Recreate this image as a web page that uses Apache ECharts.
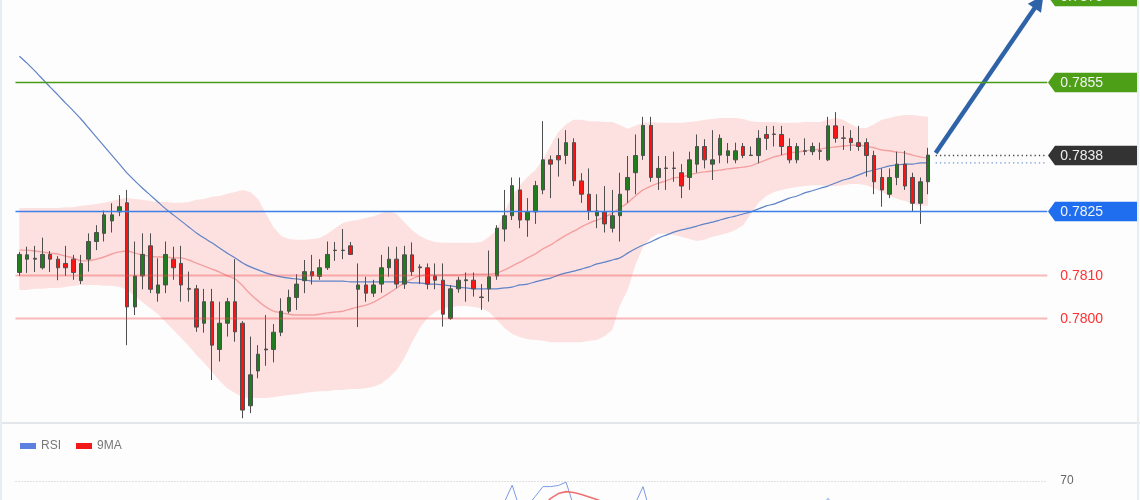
<!DOCTYPE html>
<html><head><meta charset="utf-8">
<script src="https://cdn.jsdelivr.net/npm/echarts@6/dist/echarts.min.js"></script>
<style>html,body{margin:0;padding:0;background:#fdfdfd}#c{width:1140px;height:500px}</style>
</head><body><div id="c"></div><script>
const open = [
0.78107,0.78138,0.78138,0.78118,0.78149,0.78138,0.78128,0.78138,0.78088,0.78138,
0.78179,0.78198,0.78227,0.78248,0.78269,0.78027,0.78099,0.78169,0.78059,0.78078,
0.78138,0.78128,0.7807,0.78069,0.77989,0.78039,0.77928,0.77989,0.78039,0.77989,
0.77797,0.77878,0.77927,0.77928,0.77968,0.78017,0.78049,0.78088,0.78109,0.78098,
0.78118,0.78158,0.78158,0.78169,0.78068,0.78078,0.78059,0.7808,0.78118,0.78138,
0.7808,0.78148,0.7812,0.78118,0.78099,0.78089,0.78,0.78069,0.78088,0.78089,
0.7805,0.78069,0.78099,0.78208,0.78239,0.78299,0.78229,0.78248,0.78299,0.78369,
0.78379,0.78379,0.78409,0.7832,0.78289,0.78239,0.78248,0.7821,0.78239,0.78299,
0.78339,0.78379,0.78449,0.78328,0.78349,0.78349,0.78339,0.78328,0.78359,0.784,
0.78359,0.7838,0.78379,0.78369,0.784,0.7838,0.78379,0.78428,0.78429,0.78428,
0.784,0.78369,0.78389,0.78388,0.78389,0.78369,0.78448,0.7842,0.78419,0.78409,
0.78409,0.78379,0.78328,0.78289,0.78328,0.78359,0.78328,0.78268,0.78318];
const close = [
0.78149,0.78148,0.7814,0.78149,0.78138,0.78118,0.78118,0.78107,0.78128,0.78179,
0.782,0.78241,0.78241,0.7826,0.78027,0.78099,0.78149,0.78068,0.78078,0.78149,
0.78118,0.78078,0.78068,0.7798,0.78039,0.77938,0.77989,0.78039,0.77969,0.77787,
0.77869,0.77917,0.77929,0.77968,0.78017,0.78049,0.7808,0.78109,0.78099,0.78118,
0.78149,0.78159,0.78159,0.78149,0.78078,0.78059,0.78078,0.78118,0.78138,0.7808,
0.78148,0.78109,0.78118,0.7808,0.78089,0.7801,0.78069,0.78089,0.7809,0.78069,
0.78049,0.78097,0.7821,0.78239,0.78309,0.78229,0.78248,0.78309,0.78369,0.78359,
0.78369,0.78409,0.7832,0.78289,0.7825,0.7825,0.7822,0.78239,0.78289,0.78328,
0.78379,0.78449,0.78328,0.78349,0.7835,0.7835,0.78308,0.78369,0.784,0.78369,
0.78369,0.78419,0.7839,0.7839,0.78379,0.78379,0.78419,0.78419,0.78428,0.784,
0.78369,0.784,0.7839,0.784,0.7839,0.78448,0.78419,0.78419,0.78409,0.784,
0.78379,0.78318,0.78299,0.78328,0.78359,0.78308,0.78268,0.78318,0.7838];
const low = [
0.78099,0.78106,0.78108,0.78114,0.78108,0.78089,0.78099,0.7809,0.7808,0.78109,
0.78159,0.78179,0.782,0.78238,0.77938,0.78008,0.78068,0.78059,0.78039,0.78059,
0.7809,0.78039,0.78039,0.77969,0.77967,0.77857,0.779,0.77958,0.77946,0.77768,
0.7778,0.77861,0.7789,0.77898,0.77959,0.78012,0.7802,0.78059,0.78079,0.7809,
0.78113,0.78134,0.78138,0.78148,0.7798,0.78039,0.7805,0.7806,0.78097,0.7807,
0.78069,0.78099,0.7808,0.78068,0.78068,0.77981,0.77997,0.7806,0.78039,0.78051,
0.7802,0.78039,0.7809,0.78179,0.78229,0.7821,0.7819,0.7822,0.78289,0.7828,
0.7833,0.78359,0.78308,0.78269,0.78229,0.7821,0.782,0.782,0.78179,0.78269,
0.78289,0.78369,0.78318,0.78299,0.78299,0.78318,0.7828,0.78299,0.78339,0.78349,
0.78322,0.78361,0.78361,0.78361,0.78373,0.78379,0.78361,0.78392,0.784,0.7838,
0.78361,0.78361,0.7838,0.7838,0.78369,0.78366,0.78409,0.78392,0.7839,0.7839,
0.7833,0.78289,0.7826,0.7828,0.7831,0.78299,0.78248,0.7822,0.78289];
const high = [
0.78155,0.78167,0.78169,0.78188,0.78157,0.78145,0.78169,0.78148,0.78148,0.78198,
0.78217,0.78251,0.78268,0.78287,0.78299,0.78179,0.78198,0.78198,0.7814,0.78179,
0.78167,0.78169,0.78109,0.78078,0.78069,0.78069,0.78039,0.78048,0.78138,0.77994,
0.77958,0.77938,0.78008,0.77987,0.78047,0.78067,0.78103,0.78136,0.78148,0.78138,
0.78179,0.78178,0.78208,0.78178,0.78128,0.78097,0.7809,0.78148,0.78167,0.78167,
0.78169,0.78177,0.78126,0.78128,0.78128,0.78128,0.78078,0.78097,0.78107,0.78107,
0.7808,0.78158,0.78217,0.78299,0.78328,0.78328,0.7828,0.7832,0.78459,0.78379,
0.78419,0.78438,0.78419,0.78338,0.78349,0.78289,0.78308,0.78299,0.78339,0.78378,
0.78428,0.78469,0.78469,0.78378,0.78378,0.78388,0.78359,0.78388,0.78428,0.78417,
0.78438,0.78428,0.78408,0.78409,0.78408,0.784,0.78438,0.78448,0.78448,0.78448,
0.78419,0.78408,0.78419,0.78409,0.78409,0.78469,0.7848,0.78448,0.78438,0.78448,
0.78419,0.7839,0.78349,0.78349,0.78388,0.7839,0.78339,0.78328,0.78397];
const bandUpper = [
0.78257,0.78257,0.78257,0.78257,0.78257,0.78257,0.78259,0.78259,0.78262,0.78264,
0.78266,0.78269,0.78273,0.78278,0.7828,0.78278,0.78276,0.78273,0.78271,0.78271,
0.78269,0.78269,0.78271,0.78276,0.78278,0.78283,0.78285,0.7829,0.78294,0.78299,
0.78294,0.78278,0.78245,0.78213,0.78192,0.78185,0.78183,0.78183,0.78185,0.78187,
0.78197,0.7821,0.78222,0.78227,0.78229,0.78234,0.78238,0.78245,0.7825,0.78243,
0.78224,0.78206,0.78192,0.78183,0.78178,0.78176,0.78176,0.78176,0.78176,0.78176,
0.78178,0.7819,0.78206,0.78248,0.78285,0.7831,0.78329,0.78345,0.78369,0.78403,
0.78434,0.78452,0.78462,0.78462,0.78459,0.78459,0.78457,0.78457,0.7845,0.78441,
0.78448,0.78455,0.78457,0.78455,0.78455,0.78455,0.78455,0.78457,0.78459,0.78462,
0.78464,0.78466,0.78466,0.78466,0.78464,0.78459,0.78457,0.78457,0.78457,0.78455,
0.78455,0.78455,0.78457,0.78457,0.78457,0.78462,0.78466,0.78462,0.78452,0.78443,
0.78443,0.78452,0.78462,0.78466,0.78471,0.78473,0.78473,0.78471,0.78469];
const bandLower = [
0.78066,0.78066,0.78069,0.78069,0.78071,0.78071,0.78073,0.78076,0.78078,0.78078,
0.78078,0.78076,0.78076,0.78073,0.78066,0.78052,0.78038,0.78024,0.7801,0.77992,
0.77973,0.77955,0.77936,0.77915,0.77897,0.77876,0.77855,0.77838,0.77827,0.77817,
0.77815,0.77815,0.77815,0.77817,0.7782,0.77822,0.77824,0.77827,0.77829,0.77831,
0.77831,0.77834,0.77834,0.77836,0.77836,0.77838,0.77841,0.77848,0.77862,0.7788,
0.77908,0.77945,0.77978,0.78001,0.78015,0.78024,0.78027,0.78029,0.78029,0.78027,
0.78024,0.78015,0.77997,0.77978,0.77964,0.77957,0.77952,0.7795,0.77948,0.77945,
0.77945,0.77945,0.77945,0.77945,0.77948,0.7795,0.77959,0.77973,0.78031,0.78066,
0.78124,0.78166,0.78187,0.78197,0.78197,0.78194,0.7819,0.78185,0.7818,0.78183,
0.7819,0.78194,0.78199,0.78206,0.78217,0.78243,0.78269,0.78285,0.78294,0.78299,
0.78303,0.78306,0.78308,0.7831,0.7831,0.78308,0.78308,0.7831,0.78313,0.78313,
0.7831,0.78303,0.78294,0.78285,0.78278,0.78273,0.78266,0.78262,0.78262];
const bandMid = [
0.78159,0.78159,0.78157,0.78155,0.78152,0.7815,0.78145,0.78141,0.78134,0.78134,
0.78138,0.78143,0.7815,0.78155,0.78157,0.78152,0.78148,0.78145,0.78143,0.78143,
0.78141,0.78141,0.78136,0.78129,0.78122,0.78115,0.78108,0.78099,0.78092,0.78076,
0.78057,0.78041,0.78027,0.78017,0.78013,0.7801,0.78008,0.78008,0.78008,0.7801,
0.78013,0.78015,0.78017,0.78022,0.78027,0.78031,0.78038,0.78048,0.78059,0.78071,
0.78083,0.78092,0.78099,0.78101,0.78101,0.78101,0.78101,0.78101,0.78103,0.78103,
0.78103,0.78103,0.78106,0.78113,0.78122,0.78131,0.78141,0.7815,0.78162,0.78171,
0.78183,0.78194,0.78203,0.78213,0.78222,0.78229,0.78236,0.78245,0.78257,0.78269,
0.78285,0.78299,0.78308,0.78315,0.7832,0.78327,0.78329,0.78334,0.78338,0.78341,
0.78343,0.78345,0.78348,0.7835,0.78352,0.78355,0.78362,0.78369,0.78376,0.7838,
0.78385,0.78387,0.7839,0.78392,0.78394,0.78397,0.78399,0.78401,0.78403,0.78403,
0.78401,0.78397,0.78392,0.7839,0.78387,0.78385,0.7838,0.78376,0.78373];
const maLong = [
0.7861,0.78594,0.78576,0.78557,0.78538,0.7852,0.78501,0.78483,0.78464,0.78443,
0.78422,0.78401,0.7838,0.78359,0.78338,0.7832,0.78303,0.78287,0.78271,0.78255,
0.78241,0.78227,0.78213,0.78199,0.78187,0.78176,0.78164,0.78152,0.78141,0.78129,
0.7812,0.78113,0.78106,0.78101,0.78097,0.78094,0.78092,0.7809,0.78087,0.78087,
0.78087,0.78087,0.78087,0.78085,0.78085,0.78085,0.78085,0.78085,0.78085,0.78085,
0.78085,0.78083,0.78083,0.7808,0.7808,0.78078,0.78076,0.78073,0.78071,0.78069,
0.78069,0.78069,0.78069,0.78071,0.78073,0.78078,0.7808,0.78085,0.7809,0.78094,
0.78101,0.78106,0.7811,0.78115,0.7812,0.78127,0.78131,0.78136,0.78141,0.78152,
0.78162,0.78171,0.78178,0.78187,0.78194,0.78201,0.78206,0.7821,0.78215,0.7822,
0.78224,0.78229,0.78234,0.78238,0.78243,0.78248,0.78255,0.78262,0.78266,0.78273,
0.7828,0.78285,0.78292,0.78297,0.78303,0.78308,0.78315,0.78322,0.78327,0.78334,
0.78341,0.78345,0.7835,0.78355,0.78357,0.78359,0.78359,0.78362,0.78362];
const rsi = [
50,52,52,55,53,50,49,47,52,58,
60,62,61,61,38,45,50,42,44,50,
48,44,43,37,42,35,40,44,39,28,
35,38,39,42,47,50,53,56,54,56,
59,59,59,57,47,45,47,51,53,47,
54,50,50,46,45,38,45,47,47,45,
44,47,58,62.5,68.5,60,61,64.5,68,68,
68.4,69.6,61,58,55,55.5,53,55,59,61,
62,68,58,59,59,59,56,59,62,59,
60,62.5,62,62,60,60,62.5,62,62,60,
57,60,60,61,60,63.8,61,61,60,59,
56,50,48,51,54,49,45,50,56];
const rsiMA9 = [
51,51,51,52,52,52,52,51,51,52,
53,54,55,56,54,53,53,52,51,50,
49,48,46,45,44,42,41,41,41,39,
38,38,38,38,39,40,42,44,46,48,
51,53,55,56,55,54,53,52,52,51,
50,50,50,49,48,47,46,46,46,45,
45,46,47,49,52,54,56,58.5,61,63.8,
65.5,66.2,65.9,65.2,64.3,63.4,62.3,61,60,59.5,
59.5,60,60,60,60.5,61,60,60,60,59.5,
59.8,60,60.2,60.6,60.8,61,61.2,61.4,61.4,61.2,
61,60.8,60.8,60.8,60.6,60.8,61,61,60.8,60.5,
60,59,57.5,56.5,55.5,54.5,53,52,52];
// price levels shown on the right
const levels = [0.7875, 0.7855, 0.7838, 0.7825, 0.7810, 0.7800];
const rsiLevel = 70;
// forecast arrow: [category index, price]
const arrowPath = [[119, 0.78385], [133, 0.78752]];

const N = close.length;
const padCount = 15;
const categories = [];
for (let i = 0; i < N; i++) categories.push(String(i + 1));
for (let i = 0; i < padCount; i++) categories.push('f' + (i + 1));

// style table for the level lines / tags (index matches levels)
const levelStyles = [
  {box: '#4c9f17', text: '#f4f4f4', line: '#4a9b16', width: 1.6, dash: null, fromLast: false},
  {box: '#4c9f17', text: '#f4f4f4', line: '#4a9b16', width: 1.6, dash: null, fromLast: false},
  {box: '#333333', text: '#eeeeee', line: '#444444', width: 1.3, dash: [1.3, 3], fromLast: true},
  {box: '#1f6ef0', text: '#f4f4f4', line: '#3f7fe8', width: 1.6, dash: null, fromLast: false},
  {box: null, text: '#ff3030', line: 'rgba(240,70,70,0.38)', width: 2, dash: null, fromLast: false},
  {box: null, text: '#ff3030', line: 'rgba(240,70,70,0.38)', width: 2, dash: null, fromLast: false}
];

const candleData = open.map((o, i) => [o, close[i], low[i], high[i]]);
const FONT = '"Liberation Sans", Arial, sans-serif';

const chart = echarts.init(document.getElementById('c'), null, {renderer: 'canvas'});
chart.setOption({
  animation: false,
  backgroundColor: '#fdfdfd',
  textStyle: {fontFamily: FONT},
  legend: {
    data: ['RSI', '9MA'], left: 15, top: 435, icon: 'rect', itemWidth: 16, itemHeight: 6,
    itemGap: 15, textStyle: {color: '#777', fontSize: 12, fontFamily: FONT}, selectedMode: false
  },
  grid: [
    {left: 15.5, right: 92.7, top: 0.3, height: 421.4},
    {left: 15.5, right: 92.7, top: 467, height: 33}
  ],
  xAxis: [
    {type: 'category', gridIndex: 0, data: categories, boundaryGap: true,
     axisLine: {show: false}, axisTick: {show: false}, axisLabel: {show: false}, splitLine: {show: false}},
    {type: 'category', gridIndex: 1, data: categories, boundaryGap: true,
     axisLine: {show: false}, axisTick: {show: false}, axisLabel: {show: false}, splitLine: {show: false}}
  ],
  yAxis: [
    {type: 'value', gridIndex: 0, min: 0.7776, max: 0.7874, scale: true,
     axisLine: {show: false}, axisTick: {show: false}, axisLabel: {show: false}, splitLine: {show: false}},
    {type: 'value', gridIndex: 1, min: 63.214, max: 75, scale: true,
     axisLine: {show: false}, axisTick: {show: false}, axisLabel: {show: false}, splitLine: {show: false}}
  ],
  graphic: [
    {type: 'line', shape: {x1: 0, y1: 423, x2: 1140, y2: 423}, style: {stroke: '#e3e7ec', lineWidth: 2}, silent: true},
    {type: 'line', shape: {x1: 1, y1: 0, x2: 1, y2: 500}, style: {stroke: '#e8edf2', lineWidth: 2}, silent: true},
    {type: 'line', shape: {x1: 1138, y1: 0, x2: 1138, y2: 500}, style: {stroke: '#e8edf2', lineWidth: 2}, silent: true}
  ],
  series: [
    {
      type: 'custom', name: 'band', xAxisIndex: 0, yAxisIndex: 0, z: 1, silent: true,
      data: [[0, bandUpper[0]]],
      renderItem: function (params, api) {
        const pts = [];
        for (let i = 0; i < bandUpper.length; i++) pts.push(api.coord([i, bandUpper[i]]));
        for (let i = bandLower.length - 1; i >= 0; i--) pts.push(api.coord([i, bandLower[i]]));
        return {type: 'polygon', shape: {points: pts}, style: {fill: '#fde1e1', stroke: null}};
      }
    },
    {
      type: 'line', name: 'mid', xAxisIndex: 0, yAxisIndex: 0, z: 2, data: bandMid,
      showSymbol: false, smooth: 0.2, silent: true,
      lineStyle: {color: '#f4a0a0', width: 1.4}
    },
    {
      type: 'line', name: 'ma', xAxisIndex: 0, yAxisIndex: 0, z: 2, data: maLong,
      showSymbol: false, smooth: 0.2, silent: true,
      lineStyle: {color: '#5f83c6', width: 1.2}
    },
    {
      type: 'candlestick', name: 'price', xAxisIndex: 0, yAxisIndex: 0, z: 3, data: candleData,
      barWidth: 4, silent: true,
      itemStyle: {color: '#1f7d1f', color0: '#fa1414', borderColor: '#4e4e4e', borderColor0: '#4e4e4e', borderWidth: 1}
    },
    {
      type: 'custom', name: 'arrow', xAxisIndex: 0, yAxisIndex: 0, z: 5, silent: true,
      data: [arrowPath[0]],
      renderItem: function (params, api) {
        const cs = params.coordSys;
        const right = cs.x + cs.width;
        const p0 = api.coord(arrowPath[0]);
        const p1 = api.coord(arrowPath[1]);
        const dx = p1[0] - p0[0], dy = p1[1] - p0[1];
        const len = Math.sqrt(dx * dx + dy * dy);
        const ux = dx / len, uy = dy / len;
        const hl = 16, hw = 8;
        const bx = p1[0] - ux * hl, by = p1[1] - uy * hl;
        const maPt = api.coord([N, maLong[N - 1]]);
        return {type: 'group', children: [
          {type: 'line', shape: {x1: maPt[0], y1: maPt[1], x2: right - 1, y2: maPt[1]},
           style: {stroke: '#6f93d6', lineWidth: 1.3, lineDash: [1.3, 3]}},
          {type: 'line', shape: {x1: p0[0], y1: p0[1], x2: bx + ux * 2, y2: by + uy * 2},
           style: {stroke: '#2f63a7', lineWidth: 4.5, lineCap: 'butt'}},
          {type: 'polygon', shape: {points: [[p1[0], p1[1]], [bx - uy * hw, by + ux * hw], [bx + uy * hw, by - ux * hw]]},
           style: {fill: '#2f63a7'}}
        ]};
      }
    },
    {
      type: 'custom', name: 'tags', xAxisIndex: 0, yAxisIndex: 0, z: 6, silent: true,
      data: levels.map(v => [0, v]),
      renderItem: function (params, api) {
        const cs = params.coordSys;
        const right = cs.x + cs.width;
        const v = api.value(1);
        const y = Math.round(api.coord([0, v])[1]) + 0.5;
        const st = levelStyles[params.dataIndex];
        const startX = st.fromLast ? api.coord([N, v])[0] : cs.x;
        const children = [];
        children.push({type: 'line', shape: {x1: startX, y1: y, x2: right, y2: y},
          style: {stroke: st.line, lineWidth: st.width, lineDash: st.dash}});
        if (st.box) {
          children.push({type: 'polygon', shape: {points: [
            [right + 0.7, y], [right + 7.7, y - 9.7], [right + 89.7, y - 9.7], [right + 89.7, y + 9.7], [right + 7.7, y + 9.7]
          ]}, style: {fill: st.box}});
        }
        children.push({type: 'text', style: {x: right + 13, y: y + 0.5, text: v.toFixed(4), fill: st.text,
          font: '14px ' + FONT, verticalAlign: 'middle', align: 'left'}});
        return {type: 'group', children: children};
      }
    },
    {
      type: 'line', name: 'RSI', xAxisIndex: 1, yAxisIndex: 1, data: rsi, showSymbol: false, silent: true,
      clip: true, itemStyle: {color: '#5b80e0'}, lineStyle: {color: '#7b9be6', width: 1},
      markLine: {
        silent: true, symbol: ['none', 'none'], emphasis: {disabled: true},
        lineStyle: {color: '#c4c4c4', width: 1, type: [1, 2]},
        label: {show: true, position: 'end', distance: 13, formatter: String(rsiLevel), color: '#666', fontSize: 12, fontFamily: FONT},
        data: [{yAxis: rsiLevel}]
      }
    },
    {
      type: 'line', name: '9MA', xAxisIndex: 1, yAxisIndex: 1, data: rsiMA9, showSymbol: false, silent: true,
      clip: true, itemStyle: {color: '#f01818'}, lineStyle: {color: '#f07070', width: 1.6}
    }
  ]
});
</script></body></html>
